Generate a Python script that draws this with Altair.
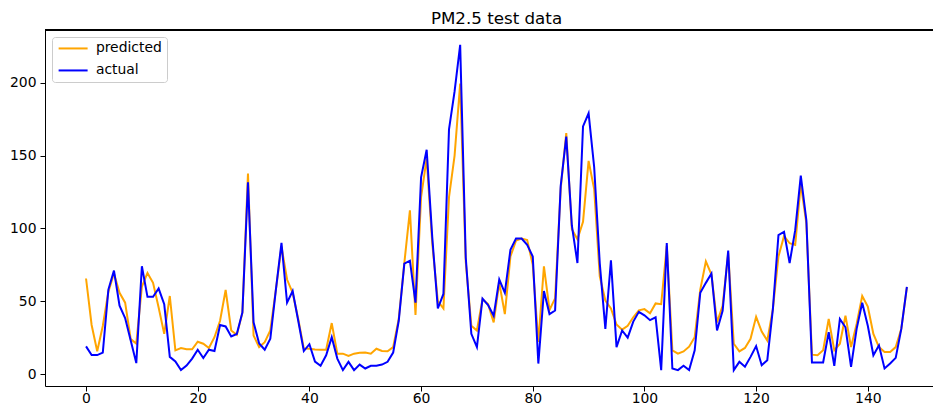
import altair as alt
import pandas as pd

predicted = [65.6, 33.7, 15.7, 33, 56.5, 69, 55.8, 49, 24, 21,
             60, 69.4, 62.6, 45.7, 27.6, 53.6, 16.3, 17.9, 17, 17,
             22.2, 20.8, 17.9, 25.3, 36.6, 57.7, 29.9, 26.9, 42, 137.7,
             26.5, 18.5, 21.9, 29.9, 58, 87.5, 64.9, 55.8, 37.8, 17.6,
             17.3, 16.8, 16.7, 16.7, 35, 14, 14, 12.4, 14, 14.6,
             14.8, 14, 17.4, 15.8, 15.6, 18.5, 37.8, 76.2, 112.4, 40.5,
             121.4, 148, 89.8, 50, 45, 121.4, 150, 199.5, 77, 33.2,
             29.9, 51.3, 48, 35.5, 62.6, 41.2, 80.7, 91.6, 93, 92,
             75, 22, 74, 44, 52, 127, 165.5, 99.5, 92.5, 104.5,
             146.3, 127, 67, 50.5, 45, 34, 30.5, 33.1, 39, 43.7,
             44.6, 41.7, 48.5, 48, 88, 16.3, 14, 15.5, 18.8, 25.3,
             58, 77.3, 68.3, 35.5, 46.8, 83, 20.8, 15.6, 17.9, 24.2,
             39.3, 29.2, 23, 44.6, 80.7, 94.8, 89.8, 88.7, 130.5, 103.3,
             13.3, 12.9, 16.3, 37.8, 16.3, 20.8, 40, 18.5, 34.4, 53.6,
             46.3, 27.6, 18.5, 15.1, 15.1, 18.5, 31, 59.5]

actual = [19, 13, 13, 14.7, 58, 71, 47, 38.5, 23, 7.5,
          74, 53, 53, 58.7, 48, 11.8, 8.7, 2.7, 5.8, 10.6,
          16.7, 11, 16.7, 15.8, 33.7, 32.7, 25.8, 27.5, 42.3, 131.6,
          35.5, 21, 16.7, 24.2, 58, 90, 49, 57, 36.6, 15.8,
          20.5, 8.6, 5.7, 12.9, 25.3, 10.6, 2.7, 8.4, 2.7, 6.5,
          3.8, 5.7, 5.7, 6.5, 8.4, 14.7, 36.6, 75.8, 77.8, 49,
          135, 154, 94, 45, 55, 168, 194, 226, 80, 27.6,
          18.5, 51.8, 47.3, 40, 64.9, 55.8, 85.3, 93, 93, 88.7,
          80.7, 7.2, 57, 41.2, 43.6, 129, 163, 102, 76.2, 170,
          179, 142, 76, 31, 78, 18.5, 29.9, 25, 36, 42.7,
          40.3, 37, 38.9, 2.7, 90, 3.8, 2.7, 5.7, 2.7, 16.3,
          55.8, 62.6, 69, 29.9, 43.4, 84.8, 2.7, 8.4, 5, 11.8,
          19.2, 6.1, 9.5, 44.6, 95.4, 97.7, 76.2, 98.8, 136.2, 105.6,
          7.9, 7.9, 7.9, 28.7, 5.6, 37.8, 32.1, 5, 31, 49,
          33.2, 12.9, 19.7, 3.8, 7.2, 11.1, 31, 59.9]

series_names = ["predicted", "actual"]
series_colors = ["orange", "blue"]
x_ticks = [0, 20, 40, 60, 80, 100, 120, 140]
y_ticks = [0, 50, 100, 150, 200]

rows = []
for name, vals in zip(series_names, [predicted, actual]):
    for i, v in enumerate(vals):
        rows.append({"index": i, "value": v, "series": name})
df = pd.DataFrame(rows)

W, H = 895, 356
FONT = "DejaVu Sans"

x_scale = alt.Scale(domain=[-7.35, 152.93], nice=False, zero=False)
y_scale = alt.Scale(domain=[-8.2, 236.2], nice=False, zero=False)
color_scale = alt.Scale(domain=series_names, range=series_colors)

x_axis = alt.Axis(values=x_ticks, title=None, grid=False, tickSize=5,
                  labelPadding=0, domainColor="black", tickColor="black",
                  labelColor="black", labelFontSize=13.9, labelFont=FONT,
                  domainWidth=1, tickWidth=1)
y_axis = alt.Axis(values=y_ticks, title=None, grid=False, tickSize=5,
                  labelPadding=4, domainColor="black", tickColor="black",
                  labelColor="black", labelFontSize=13.9, labelFont=FONT,
                  domainWidth=1, tickWidth=1, minExtent=37, maxExtent=37)

legend = alt.Legend(title=None, orient="top-left", offset=7,
                    symbolType="M-1,0L5,0", symbolSize=93.4, symbolStrokeWidth=2,
                    labelFont=FONT, labelFontSize=13.9, labelColor="black",
                    labelOffset=25.5, rowPadding=7,
                    strokeColor="#cccccc", fillColor="rgba(255,255,255,0.8)",
                    cornerRadius=3, padding=4.5)

base = alt.Chart(df)

def series_layer(name):
    return base.transform_filter(alt.datum.series == name).mark_line(
        strokeWidth=2, clip=True
    ).encode(
        x=alt.X("index:Q", scale=x_scale, axis=x_axis),
        y=alt.Y("value:Q", scale=y_scale, axis=y_axis),
        color=alt.Color("series:N", scale=color_scale, legend=legend),
    )

top_border = alt.Chart(df).mark_rule(color="black", strokeWidth=1).encode(
    x=alt.value(0), x2=alt.value(W), y=alt.value(0)
)

chart = alt.layer(series_layer("predicted"), series_layer("actual"), top_border).properties(
    width=W, height=H,
    title=alt.TitleParams("PM2.5 test data", font=FONT, fontSize=16.7,
                          fontWeight="normal", color="black", anchor="middle",
                          offset=1.5, dx=4),
    padding={"left": 0, "top": 3, "right": -8, "bottom": -1},
).configure_view(stroke=None)

chart.save("out.html", embed_options={"renderer": "svg", "actions": False})
